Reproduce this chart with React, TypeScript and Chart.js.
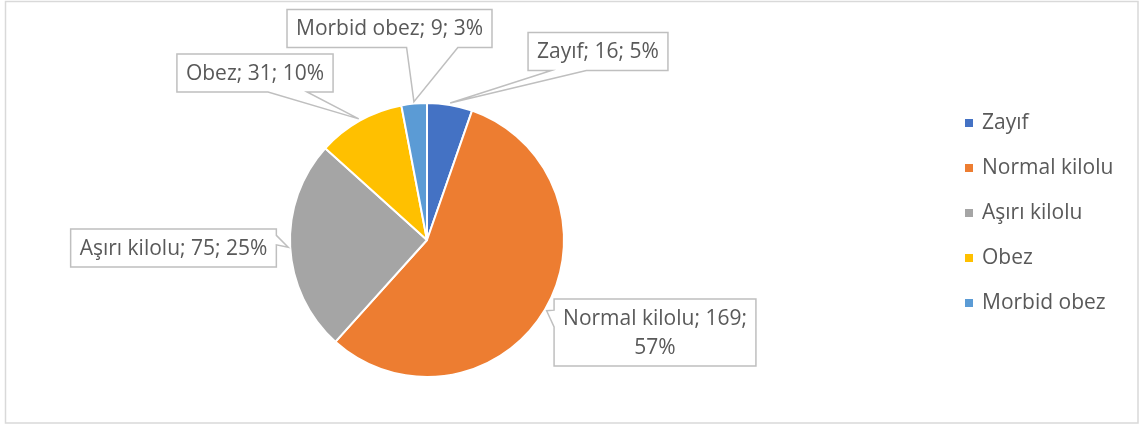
import React, { useEffect, useRef } from "react";
import { Chart, registerables } from "chart.js";

Chart.register(...registerables);

// ---- data ----
const categories = ["Zayıf", "Normal kilolu", "Aşırı kilolu", "Obez", "Morbid obez"];
const values = [16, 169, 75, 31, 9];
const percentLabels = ["5%", "57%", "25%", "10%", "3%"];
const colors = ["#4472C4", "#ED7D31", "#A5A5A5", "#FFC000", "#5B9BD5"];

// ---- layout / style ----
const FONT_FAMILY = '"Open Sans", "Noto Sans", sans-serif';
const FONT_SIZE = 21;
const TEXT_COLOR = "#595959";
const CALLOUT_BORDER = "#BFBFBF";
const LINE_H = 29;
const PAD_X = 9;
const PAD_Y = 4.5;
const MAX_TEXT_W = 210;
// callout box centres, offset from the pie centre (px)
const calloutOffsets: [number, number][] = [
  [171, -188.5],
  [228, 92.5],
  [-253.5, 8],
  [-172, -167],
  [-37.5, -211.5],
];
const LEGEND_X = 965;
const LEGEND_TOP = 123;
const LEGEND_STEP = 45;
const LEGEND_BOX = 8;

function wrapText(ctx: CanvasRenderingContext2D, text: string, maxW: number): string[] {
  const words = text.split(" ");
  const lines: string[] = [];
  let cur = "";
  for (const w of words) {
    const test = cur ? cur + " " + w : w;
    if (cur && ctx.measureText(test).width > maxW) {
      lines.push(cur);
      cur = w;
    } else {
      cur = test;
    }
  }
  if (cur) lines.push(cur);
  return lines;
}

function wedgeRect(
  ctx: CanvasRenderingContext2D,
  l: number,
  t: number,
  w: number,
  h: number,
  px: number,
  py: number
) {
  const r = l + w;
  const b = t + h;
  const hc = l + w / 2;
  const vc = t + h / 2;
  const dx = px - hc;
  const dy = py - vc;
  const dq = (dx * h) / w;
  const dz = Math.abs(dy) - Math.abs(dq);
  const x1 = l + (w * (dx > 0 ? 7 : 2)) / 12;
  const x2 = l + (w * (dx > 0 ? 10 : 5)) / 12;
  const y1 = t + (h * (dy > 0 ? 7 : 2)) / 12;
  const y2 = t + (h * (dy > 0 ? 10 : 5)) / 12;
  ctx.beginPath();
  ctx.moveTo(l, t);
  if (dz > 0 && dy < 0) {
    ctx.lineTo(x1, t);
    ctx.lineTo(px, py);
    ctx.lineTo(x2, t);
  }
  ctx.lineTo(r, t);
  if (dz <= 0 && dx > 0) {
    ctx.lineTo(r, y1);
    ctx.lineTo(px, py);
    ctx.lineTo(r, y2);
  }
  ctx.lineTo(r, b);
  if (dz > 0 && dy > 0) {
    ctx.lineTo(x2, b);
    ctx.lineTo(px, py);
    ctx.lineTo(x1, b);
  }
  ctx.lineTo(l, b);
  if (dz <= 0 && dx < 0) {
    ctx.lineTo(l, y2);
    ctx.lineTo(px, py);
    ctx.lineTo(l, y1);
  }
  ctx.closePath();
  ctx.fillStyle = "#FFFFFF";
  ctx.fill();
  ctx.lineWidth = 1.5;
  ctx.strokeStyle = CALLOUT_BORDER;
  ctx.lineJoin = "miter";
  ctx.stroke();
}

const framePlugin = {
  id: "frame",
  beforeDraw(chart: any) {
    const ctx = chart.ctx as CanvasRenderingContext2D;
    ctx.save();
    ctx.fillStyle = "#FFFFFF";
    ctx.fillRect(0, 0, chart.width, chart.height);
    ctx.strokeStyle = "#D9D9D9";
    ctx.lineWidth = 1.5;
    ctx.strokeRect(5.5, 1.5, chart.width - 7.5, chart.height - 3.5);
    ctx.restore();
  },
};

const calloutPlugin = {
  id: "callouts",
  afterDatasetsDraw(chart: any) {
    const ctx = chart.ctx as CanvasRenderingContext2D;
    const meta = chart.getDatasetMeta(0);
    ctx.save();
    ctx.font = `${FONT_SIZE}px ${FONT_FAMILY}`;
    meta.data.forEach((arc: any, i: number) => {
      const p = arc.getProps(["x", "y", "startAngle", "endAngle", "outerRadius"], true);
      const mid = (p.startAngle + p.endAngle) / 2;
      const tipX = p.x + (p.outerRadius + 2) * Math.cos(mid);
      const tipY = p.y + (p.outerRadius + 2) * Math.sin(mid);
      const text = `${categories[i]}; ${values[i]}; ${percentLabels[i]}`;
      const lines = wrapText(ctx, text, MAX_TEXT_W);
      const tw = Math.max(...lines.map((s) => ctx.measureText(s).width));
      const w = tw + 2 * PAD_X;
      const h = lines.length * LINE_H + 2 * PAD_Y;
      const cx = p.x + calloutOffsets[i][0];
      const cy = p.y + calloutOffsets[i][1];
      wedgeRect(ctx, cx - w / 2, cy - h / 2, w, h, tipX, tipY);
      ctx.fillStyle = TEXT_COLOR;
      ctx.textAlign = "center";
      ctx.textBaseline = "middle";
      lines.forEach((s, k) => {
        ctx.fillText(s, cx, cy - ((lines.length - 1) * LINE_H) / 2 + k * LINE_H + 1);
      });
    });
    ctx.restore();
  },
};

const legendPlugin = {
  id: "customLegend",
  afterDraw(chart: any) {
    const ctx = chart.ctx as CanvasRenderingContext2D;
    ctx.save();
    ctx.font = `${FONT_SIZE}px ${FONT_FAMILY}`;
    ctx.textAlign = "left";
    ctx.textBaseline = "middle";
    categories.forEach((c, i) => {
      const y = LEGEND_TOP + i * LEGEND_STEP;
      ctx.fillStyle = colors[i];
      ctx.fillRect(LEGEND_X, y - LEGEND_BOX / 2, LEGEND_BOX, LEGEND_BOX);
      ctx.fillStyle = TEXT_COLOR;
      ctx.fillText(c, LEGEND_X + 17, y);
    });
    ctx.restore();
  },
};

export default function App() {
  const ref = useRef<HTMLCanvasElement>(null);
  useEffect(() => {
    if (!ref.current) return;
    const chart = new Chart(ref.current, {
      type: "pie",
      data: {
        labels: categories,
        datasets: [
          {
            data: values,
            backgroundColor: colors,
            borderColor: "#FFFFFF",
            borderWidth: 2,
            hoverOffset: 0,
          },
        ],
      },
      options: {
        responsive: false,
        maintainAspectRatio: false,
        animation: false,
        events: [],
        layout: { padding: { left: 289, right: 575, top: 102, bottom: 47 } },
        plugins: {
          legend: { display: false },
          tooltip: { enabled: false },
        },
      },
      plugins: [framePlugin, calloutPlugin, legendPlugin],
    } as any);
    return () => chart.destroy();
  }, []);
  return (
    <div
      style={{
        position: "fixed",
        left: 0,
        top: 0,
        width: 1140,
        height: 425,
        background: "#FFFFFF",
      }}
    >
      <canvas ref={ref} width={1140} height={425} style={{ display: "block" }} />
    </div>
  );
}
